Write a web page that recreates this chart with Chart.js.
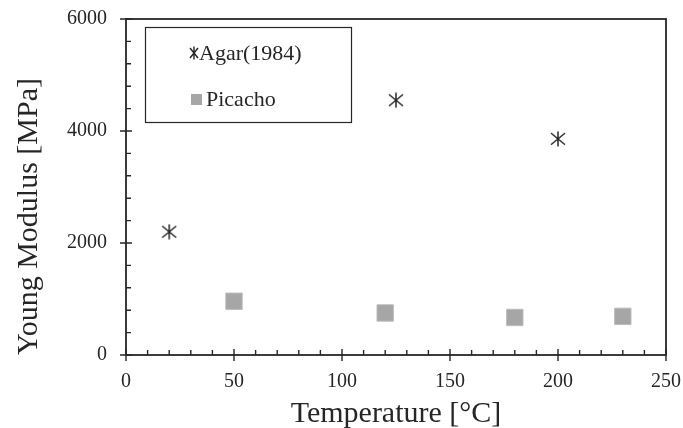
<!DOCTYPE html>
<html lang="en">
<head>
    <meta charset="UTF-8">
    <title>Young Modulus vs Temperature</title>
    <style>
        * { margin: 0; padding: 0; box-sizing: border-box; }
        body { background: #ffffff; }
        #wrap { width: 683px; height: 428px; }
    </style>
    <script src="https://cdn.jsdelivr.net/npm/chart.js@4.4.1/dist/chart.umd.min.js"></script>
</head>
<body>
    <div id="wrap"><canvas id="chart" width="683" height="428"></canvas></div>

    <script>
        // Data
        const agarTemp = [20, 125, 200];
        const agarModulus = [2200, 4550, 3860];
        const picachoTemp = [50, 120, 180, 230];
        const picachoModulus = [960, 750, 670, 690];

        const xTicks = [0, 50, 100, 150, 200, 250];
        const yTicks = [0, 2000, 4000, 6000];

        const INK = '#262626';
        const SERIF = "'Liberation Serif', 'Times New Roman', serif";

        // asterisk marker (X with a vertical bar)
        function makeStar(w, h, lw) {
            const c = document.createElement('canvas');
            c.width = w; c.height = h;
            const g = c.getContext('2d');
            g.strokeStyle = INK;
            g.lineWidth = lw;
            g.beginPath();
            g.moveTo(w / 2, 0.5); g.lineTo(w / 2, h - 0.5);
            g.moveTo(1, h * 0.14); g.lineTo(w - 1, h * 0.86);
            g.moveTo(w - 1, h * 0.14); g.lineTo(1, h * 0.86);
            g.stroke();
            return c;
        }
        const starBig = makeStar(16, 16, 1.5);
        const starSmall = makeStar(10, 14, 1.4);

        // frame + inward ticks
        const framePlugin = {
            id: 'frame',
            afterDatasetsDraw(chart) {
                const { ctx, chartArea: a, scales } = chart;
                ctx.save();
                ctx.strokeStyle = INK;
                ctx.lineWidth = 1.8;
                ctx.strokeRect(a.left, a.top, a.right - a.left, a.bottom - a.top);
                ctx.lineWidth = 1.4;
                ctx.beginPath();
                for (let v = 0; v <= 250; v += 10) {
                    const px = scales.x.getPixelForValue(v);
                    if (v % 50 === 0) { ctx.moveTo(px, a.bottom - 6); ctx.lineTo(px, a.bottom + 6); }
                    else { ctx.moveTo(px, a.bottom - 5); ctx.lineTo(px, a.bottom); }
                }
                for (let v = 0; v <= 6000; v += 400) {
                    const py = scales.y.getPixelForValue(v);
                    if (v % 2000 === 0) { ctx.moveTo(a.left - 6, py); ctx.lineTo(a.left + 6, py); }
                    else { ctx.moveTo(a.left, py); ctx.lineTo(a.left + 5, py); }
                }
                ctx.stroke();
                ctx.restore();
            }
        };

        // boxed legend inside the plot
        const legendBox = {
            id: 'legendBox',
            afterDraw(chart) {
                const { ctx } = chart;
                ctx.save();
                ctx.strokeStyle = INK;
                ctx.lineWidth = 1.2;
                ctx.strokeRect(145.5, 27.5, 206, 95);
                ctx.font = '22px ' + SERIF;
                ctx.fillStyle = INK;
                ctx.textBaseline = 'middle';
                ctx.drawImage(starSmall, 189, 46);
                ctx.fillText(chart.data.datasets[0].label, 199, 54);
                ctx.fillStyle = '#a6a6a6';
                ctx.fillRect(191, 94, 11, 11);
                ctx.fillStyle = INK;
                ctx.fillText(chart.data.datasets[1].label, 206, 100);
                ctx.restore();
            }
        };

        new Chart(document.getElementById('chart'), {
            type: 'scatter',
            data: {
                datasets: [
                    {
                        label: 'Agar(1984)',
                        data: agarTemp.map((t, i) => ({ x: t, y: agarModulus[i] })),
                        pointStyle: starBig,
                        pointRadius: 8,
                        pointHoverRadius: 8
                    },
                    {
                        label: 'Picacho',
                        data: picachoTemp.map((t, i) => ({ x: t, y: picachoModulus[i] })),
                        pointStyle: 'rect',
                        pointRadius: 11.6,
                        pointHoverRadius: 11.6,
                        backgroundColor: '#a6a6a6',
                        borderColor: '#bdbdbd',
                        borderWidth: 1
                    }
                ]
            },
            options: {
                responsive: false,
                animation: false,
                layout: { padding: { left: 0, right: 17, top: 19, bottom: 0 } },
                plugins: {
                    legend: { display: false },
                    tooltip: { enabled: false }
                },
                scales: {
                    x: {
                        type: 'linear',
                        min: 0, max: 250,
                        afterBuildTicks: s => { s.ticks = xTicks.map(v => ({ value: v })); },
                        afterFit: s => { s.height = 73; s.paddingLeft = 0; s.paddingRight = 0; },
                        grid: { display: false, drawTicks: false },
                        border: { display: false },
                        ticks: {
                            padding: 15,
                            color: INK,
                            font: { family: SERIF, size: 20 },
                            callback: v => String(v)
                        },
                        title: {
                            display: true,
                            text: 'Temperature [°C]',
                            color: INK,
                            font: { family: SERIF, size: 30 },
                            padding: { top: 0, bottom: -4 }
                        }
                    },
                    y: {
                        type: 'linear',
                        min: 0, max: 6000,
                        afterBuildTicks: s => { s.ticks = yTicks.map(v => ({ value: v })); },
                        afterFit: s => { s.width = 126; s.paddingTop = 0; s.paddingBottom = 0; },
                        grid: { display: false, drawTicks: false },
                        border: { display: false },
                        ticks: {
                            padding: 19,
                            color: INK,
                            font: { family: SERIF, size: 20 },
                            callback: v => String(v)
                        },
                        title: {
                            display: true,
                            text: 'Young Modulus [MPa]',
                            align: 'start',
                            color: INK,
                            font: { family: SERIF, size: 30 },
                            padding: { top: 11, bottom: 0 }
                        }
                    }
                }
            },
            plugins: [framePlugin, legendBox]
        });
    </script>
</body>
</html>
